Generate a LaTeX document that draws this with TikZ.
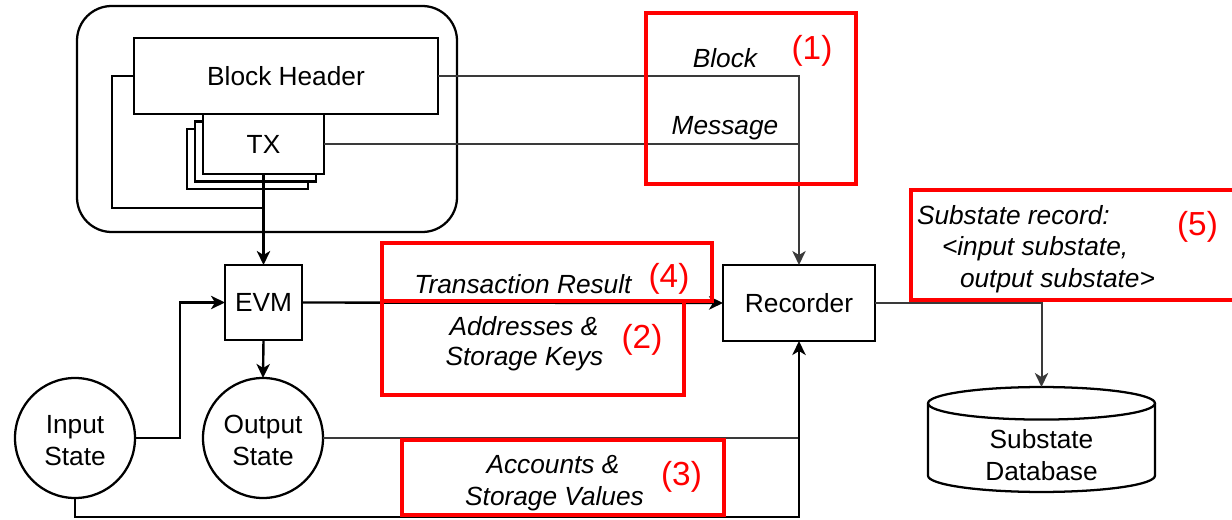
\documentclass[tikz,border=0pt]{standalone}
\usepackage{fontspec}
\setmainfont{Liberation Sans}
\usetikzlibrary{arrows.meta,calc}
\definecolor{annot}{RGB}{255,0,0}
\definecolor{wire}{RGB}{58,58,58}
\begin{document}
\begin{tikzpicture}[x=0.75pt, y=-0.75pt,
  every node/.style={font=\fontsize{19.7}{24}\selectfont, inner sep=0pt, outer sep=0pt},
  box/.style={draw, line width=1.7pt, fill=white},
  state/.style={draw, circle, line width=1.7pt, minimum size=90pt},
  blackwire/.style={line width=1.8pt, black},
  graywire/.style={line width=1.5pt, wire},
  flow/.style={-{Stealth[length=10.5pt, width=10pt, inset=3pt]}},
  redbox/.style={draw=annot, line width=2.6pt},
  num/.style={text=annot, font=\fontsize{25}{30}\selectfont, anchor=base},
  lab/.style={font=\fontsize{19.7}{24}\selectfont\itshape, anchor=base},
  plain/.style={anchor=base},
]
\useasboundingbox (0,0) rectangle (1232,520);

% block container
\node[draw, line width=1.7pt, rounded corners=26pt, minimum width=285pt, minimum height=169.5pt] (blk) at (267,119) {};

% stacked transactions
\node[box, minimum width=90.75pt, minimum height=45pt] (tx3) at (247.5,159) {};
\node[box, minimum width=90.75pt, minimum height=45pt] (tx2) at (255.5,151.5) {};
\node[box, minimum width=90.75pt, minimum height=45pt] (tx) at (263.5,144) {TX};
\node[box, minimum width=228pt, minimum height=57pt] (bh) at (286,76) {Block Header};

% processing nodes
\node[box, minimum width=57.75pt, minimum height=56.25pt] (evm) at (263.5,302.5) {EVM};
\node[state] (in) at (75,438) {};
\node[plain] (in1) at (75,433) {Input};
\node[plain] (in2) at (75,465) {State};
\node[state] (out) at (263,438) {};
\node[plain] (out1) at (263,433) {Output};
\node[plain] (out2) at (263,465) {State};
\node[box, minimum width=114pt, minimum height=57pt] (rec) at (799,303) {Recorder};

% substate database (cylinder)
\node[minimum width=170.25pt, minimum height=78.75pt] (db) at (1041.5,439.5) {};
\draw[line width=1.7pt] ($(db.north west)+(0,16.3)$) -- ($(db.south west)+(0,-16.3)$)
  arc[start angle=180, end angle=360, x radius=85.1pt, y radius=12.2pt]
  -- ($(db.north east)+(0,16.3)$);
\draw[line width=1.7pt] ($(db.north)+(0,16.3)$) ellipse[x radius=85.1pt, y radius=12.2pt];
\node[plain] (db1) at (1041.5,448) {Substate};
\node[plain] (db2) at (1041.5,480) {Database};

% connectors
\coordinate (join) at (263.5,208);
\coordinate (bot) at (799,517);
\draw[blackwire] (bh.west) -- ++(-22,0) |- (join);
\draw[blackwire, flow] (tx.south) -- (evm.north);
\draw[blackwire, flow] (in.east) -- ++(45,0) |- (evm.west);
\draw[blackwire, flow] (evm.south) -- (out.north);
\draw[blackwire, flow] (evm.east) -- (rec.west);
\draw[graywire, flow] (bh.east) -| (rec.north);
\draw[graywire] (tx.east) -- (tx.east -| rec.north);
\draw[graywire] (out.east) -- (out.east -| rec.south);
\draw[blackwire, flow] (in.south) |- (bot) -- (rec.south);
\draw[graywire, flow] (rec.east) -| (db.north);

% annotation frames
\node[redbox, minimum width=157.5pt, minimum height=128.25pt] (r1) at (751,98.5) {};
\node[redbox, minimum width=247.5pt, minimum height=43.5pt] (r4) at (547,272) {};
\node[redbox, minimum width=226.5pt, minimum height=70.5pt] (r2) at (533,348) {};
\node[redbox, minimum width=241.5pt, minimum height=56.25pt] (r3) at (563,477.5) {};
\node[redbox, minimum width=246.75pt, minimum height=82.5pt] (r5) at (1075.5,245) {};

% labels
\node[lab] (lblock) at (725,68) {Block};
\node[lab] (lmsg) at (725,135) {Message};
\node[num] (n1) at (812,60) {(1)};
\node[lab] (ltr) at (523,294) {Transaction Result};
\node[num] (n4) at (669,288) {(4)};
\node[lab] (laddr) at (524,335) {Addresses \&};
\node[lab] (lkeys) at (524.5,366) {Storage Keys};
\node[num] (n2) at (642,349) {(2)};
\node[lab] (lacc) at (553,473) {Accounts \&};
\node[lab] (lvals) at (554.5,505) {Storage Values};
\node[num] (n3) at (681.5,485) {(3)};
\node[lab, anchor=base west] (lsr1) at (917,225) {Substate record:};
\node[lab, anchor=base west] (lsr2) at (942,256) {<input substate,};
\node[lab, anchor=base west] (lsr3) at (960,288) {output substate>};
\node[num] (n5) at (1197.5,236) {(5)};
\end{tikzpicture}
\end{document}
